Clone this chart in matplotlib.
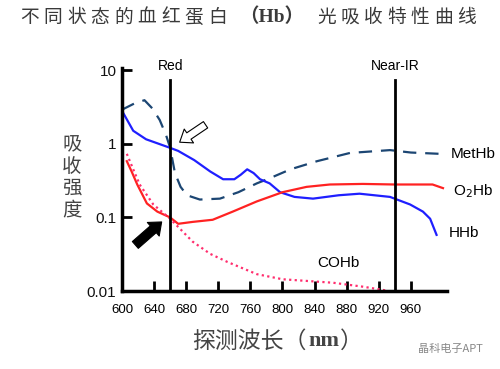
import matplotlib.pyplot as plt

plt.rcParams['font.family'] = ['Liberation Sans', 'Noto Sans CJK SC', 'DejaVu Sans']

# 数据
wl_hhb = [600, 614, 630, 660, 670, 690, 710, 726, 740, 748, 756, 764, 772, 784, 797,
          815, 838, 870, 896, 934, 959, 975, 984, 992]
hhb = [2.8, 1.5, 1.15, 0.88, 0.8, 0.6, 0.42, 0.33, 0.33, 0.38, 0.45, 0.40, 0.33, 0.29,
       0.22, 0.19, 0.18, 0.20, 0.21, 0.19, 0.15, 0.12, 0.096, 0.058]

wl_met = [600, 615, 628, 638, 647, 655, 660, 666, 673, 681, 697, 722, 745, 768, 784,
          810, 843, 884, 934, 960, 996]
methb = [2.9, 3.5, 3.9, 3.0, 2.1, 1.3, 0.88, 0.4, 0.26, 0.2, 0.175, 0.18, 0.22, 0.29,
         0.34, 0.45, 0.58, 0.75, 0.82, 0.76, 0.73]

wl_o2 = [606, 612, 619, 631, 644, 660, 670, 688, 713, 738, 768, 800, 830, 859, 900,
         940, 987, 1000]
o2hb = [0.58, 0.42, 0.28, 0.155, 0.12, 0.1, 0.082, 0.087, 0.093, 0.12, 0.165, 0.22,
        0.26, 0.28, 0.285, 0.28, 0.28, 0.25]

wl_co = [606, 614, 622, 639, 660, 688, 710, 731, 768, 800, 863, 900, 925, 935]
cohb = [0.73, 0.45, 0.28, 0.15, 0.096, 0.047, 0.032, 0.025, 0.017, 0.0145, 0.013,
        0.0115, 0.0104, 0.0098]

xticks = [600, 640, 680, 720, 760, 800, 840, 880, 920, 960]
yticks = [0.01, 0.1, 1, 10]
ytick_labels = ['0.01', '0.1', '1', '10']
red_wl, nir_wl = 660, 940

CJK = ['Noto Sans CJK SC', 'DejaVu Sans']
W, H = 500, 369

fig = plt.figure(figsize=(5, 3.69), dpi=100)
ax = fig.add_axes([0.244, 0.211, 0.65, 0.605])

ax.plot(wl_met, methb, color='#1c4673', lw=1.6, dashes=(6, 4))
ax.plot(wl_hhb, hhb, color='#1f1fff', lw=1.6)
ax.plot(wl_o2, o2hb, color='#ff2222', lw=1.6)
ax.plot(wl_co, cohb, color='#ff2e6e', lw=1.6, ls=(0, (1, 1.5)))

ax.set_yscale('log')
ax.set_xlim(600, 1005)
ax.set_ylim(0.01, 10.7)

# 竖线
for w, lab in [(red_wl, 'Red'), (nir_wl, 'Near-IR')]:
    ax.plot([w, w], [0.01, 7.3], color='black', lw=2)
    ax.text(w, 9.0, lab, ha='center', va='bottom', fontsize=10)

ax.set_xticks(xticks)
ax.set_xticklabels([str(t) for t in xticks], fontsize=9.5)
ax.set_yticks(yticks)
ax.set_yticklabels(ytick_labels, fontsize=11, color='#111111')
ax.minorticks_off()
ax.tick_params(axis='both', direction='in', length=7, width=2)
ax.tick_params(axis='x', pad=9)
ax.tick_params(axis='y', pad=4)

for s in ['top', 'right']:
    ax.spines[s].set_visible(False)
for s in ['left', 'bottom']:
    ax.spines[s].set_linewidth(2.5)

# 曲线标签
ax.text(1010, 0.73, 'MetHb', fontsize=11, va='center', ha='left', clip_on=False)
ax.text(1012, 0.23, 'O$_2$Hb', fontsize=11, va='center', ha='left', clip_on=False)
ax.text(1007, 0.061, 'HHb', fontsize=11, va='center', ha='left', clip_on=False)
ax.text(870, 0.024, 'COHb', fontsize=11, va='center', ha='center')

# 箭头
ax.annotate('', xy=(669, 1.0), xytext=(707, 1.9),
            arrowprops=dict(arrowstyle='simple,head_length=0.8,head_width=1.2,tail_width=0.55',
                            fc='white', ec='black', lw=0.8))
ax.annotate('', xy=(652, 0.092), xytext=(614, 0.04),
            arrowprops=dict(arrowstyle='simple,head_length=0.8,head_width=1.3,tail_width=0.65',
                            fc='black', ec='black', lw=0.8))

# 标题: 字间距较宽, 逐字放置
title_left = '不同状态的血红蛋白'
title_right = '光吸收特性曲线'
ty = 1 - 17 / H
for i, ch in enumerate(title_left):
    fig.text((29.5 + i * 23.5) / W, ty, ch, ha='center', va='center', fontsize=13.5,
             color='#3a3a3a', family=CJK)
fig.text(272 / W, ty, '（Hb）', ha='center', va='center', fontsize=14, color='#3a3a3a',
         family=['Liberation Serif', 'Noto Sans CJK SC'], weight='bold')
for i, ch in enumerate(title_right):
    fig.text((326.5 + i * 23.3) / W, ty, ch, ha='center', va='center', fontsize=13.5,
             color='#3a3a3a', family=CJK)

# y 轴标签
fig.text(72 / W, 0.52, '吸\n收\n强\n度', ha='center', va='center', fontsize=14,
         color='#444444', linespacing=1.05, family=CJK)

# x 轴标签
xy_ = 1 - 341 / H
fig.text(192 / W, xy_, '探测波长（', ha='left', va='center', fontsize=16.5,
         color='#444444', family=CJK)
fig.text(324 / W, xy_, 'nm', ha='center', va='center', fontsize=16,
         color='#444444', family='Liberation Serif', weight='bold')
fig.text(340 / W, xy_, '）', ha='left', va='center', fontsize=16.5,
         color='#444444', family=CJK)

fig.text(450 / W, 1 - 349 / H, '晶科电子APT', ha='center', va='center', fontsize=8,
         color='#888888', family=CJK)

fig.savefig('out.png', dpi=100)
